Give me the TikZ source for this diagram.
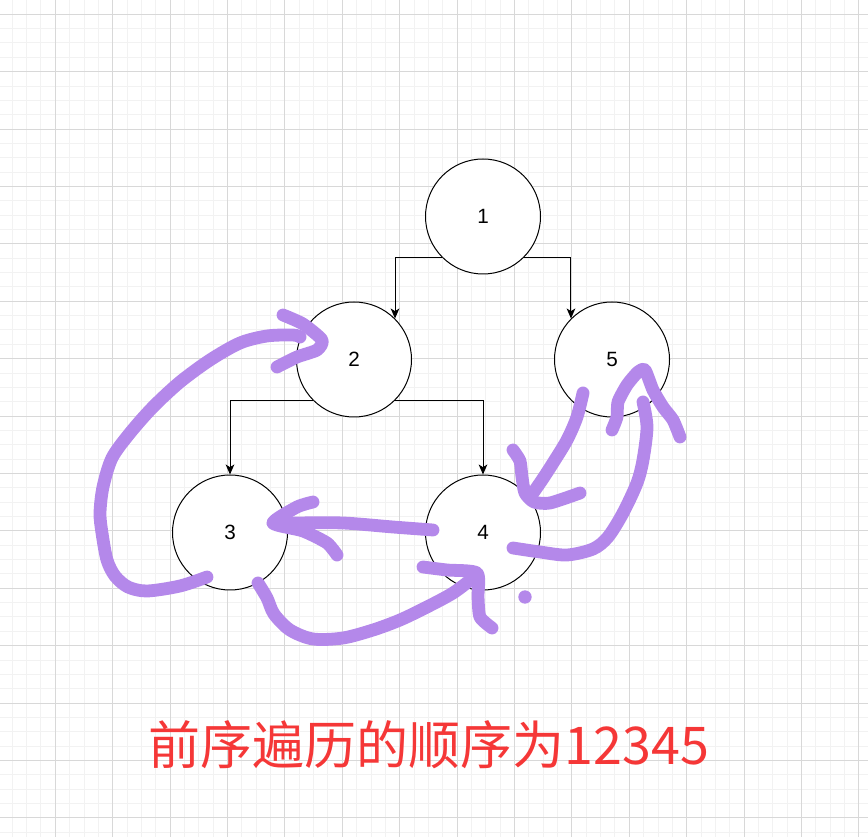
\documentclass[tikz,border=0pt]{standalone}
\usepackage{fontspec}
\setmainfont{Liberation Sans}
\newfontfamily\cjkfont{Noto Sans CJK SC}
\usetikzlibrary{arrows.meta}
\definecolor{penpurple}{RGB}{180,136,234}
\definecolor{notered}{RGB}{245,55,55}
\definecolor{minorgrid}{RGB}{242,242,242}
\definecolor{majorgrid}{RGB}{216,216,216}
\def\gstep{14.35}
\tikzset{
    treenode/.style = {
        draw, circle, fill=white, minimum size=86.25pt, inner sep=0pt, line width=0.75pt,
        font=\fontsize{15.5}{18}\selectfont
    },
    treeedge/.style = {
        -{Stealth[length=7.5pt, width=6.5pt, inset=2pt]}, line width=0.75pt
    },
    scribble/.style = {
        draw=penpurple, line width=9.6pt, line cap=round, line join=round
    },
}

\begin{document}
\begin{tikzpicture}[x=0.75pt, y=-0.75pt]
        \useasboundingbox (0,0) rectangle (868,837);

        % Grid paper
        \foreach \i in {0,...,60}{
            \draw[minorgrid, line width=0.75pt] ({12.25+\gstep*\i},0) -- ++(0,837);
        }
        \foreach \j in {0,...,58}{
            \draw[minorgrid, line width=0.75pt] (0,{-0.05+\gstep*\j}) -- ++(868,0);
        }
        \foreach \i in {3,7,...,59}{
            \draw[majorgrid, line width=0.75pt] ({12.25+\gstep*\i},0) -- ++(0,837);
        }
        \foreach \j in {1,5,...,57}{
            \draw[majorgrid, line width=0.75pt] (0,{-0.05+\gstep*\j}) -- ++(868,0);
        }

        % Place the tree
        \node[treenode] (n1) at (483,216.5) {1};
        \node[treenode] (n2) at (354,359.5) {2};
        \node[treenode] (n5) at (612,359.5) {5};
        \node[treenode] (n3) at (230,532.5) {3};
        \node[treenode] (n4) at (483,532.5) {4};

        % Draw connections
        \draw[treeedge] (n1.south west) -| (n2.north east);
        \draw[treeedge] (n1.south east) -| (n5.north west);
        \draw[treeedge] (n2.south west) -| (n3.north);
        \draw[treeedge] (n2.south east) -| (n4.north);

        % Hand drawn traversal
        \draw[scribble] plot[smooth] coordinates {(207,577) (180,586) (147,591) (128,587) (115,576) (107,560) (102,533) (100,513) (103,487) (112,458) (130,433) (153,407) (180,382) (210,360) (240,343) (267,336) (293,335) (300,337)};
        \draw[scribble] plot[smooth, tension=0.4] coordinates {(283,315) (303,324) (322,340) (317,350) (297,357) (277,367)};

        \draw[scribble] plot[smooth] coordinates {(433,530) (393,527) (343,523) (293,523) (273,523)};
        \draw[scribble] plot[smooth, tension=0.4] coordinates {(313,502) (297,507) (273,523) (303,531) (327,543) (337,555)};

        \draw[scribble] plot[smooth] coordinates {(258,583) (267,598) (274,614) (290,630) (313,639) (343,638) (373,630) (400,620) (427,607) (453,593) (473,578)};
        \draw[scribble] plot[smooth, tension=0.4] coordinates {(423,567) (447,570) (477,573) (478,597) (480,617) (492,628)};
        \fill[penpurple] (525,597) circle (5pt);

        \draw[scribble] plot[smooth] coordinates {(583,393) (577,417) (567,440) (553,463) (542,480) (533,493)};
        \draw[scribble] plot[smooth, tension=0.4] coordinates {(513,450) (520,461) (522,477) (525,493) (534,502) (550,503) (580,493)};

        \draw[scribble] plot[smooth] coordinates {(513,548) (540,552) (567,555) (593,549) (608,537) (623,513) (637,483) (643,460) (647,427) (643,402)};
        \draw[scribble] plot[smooth, tension=0.4] coordinates {(612,430) (617,417) (618,402) (627,385) (638,372) (645,370) (653,390) (663,407) (673,420) (680,437)};

        % Caption
        \node[text=notered, font=\cjkfont\fontsize{39}{45}\selectfont] (caption) at (429,745) {前序遍历的顺序为12345};
    \end{tikzpicture}
\end{document}
